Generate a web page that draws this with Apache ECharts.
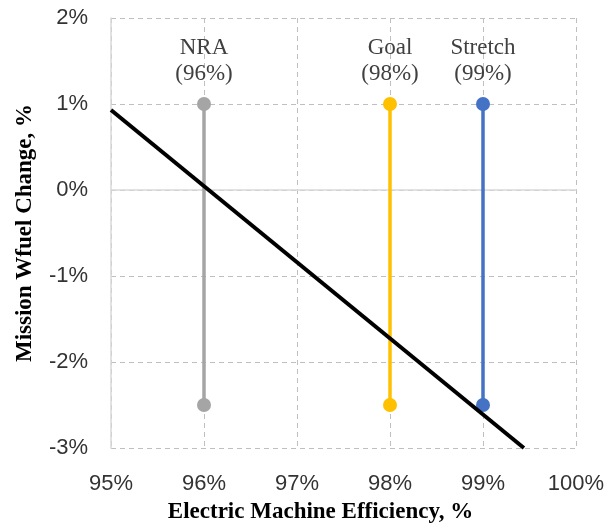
<!DOCTYPE html>
<html>
<head>
<meta charset="utf-8">
<script src="https://cdn.jsdelivr.net/npm/echarts@6/dist/echarts.min.js"></script>
<style>
html, body { margin: 0; padding: 0; background: #fff; }
#main { width: 609px; height: 523px; }
</style>
</head>
<body>
<div id="main"></div>
<script>
// targets (efficiency, %)
var targetNames = ['NRA', 'Goal', 'Stretch'];
var targetEff = [96, 98, 99];
var targetColors = ['#A5A5A5', '#FFC000', '#4472C4'];
var rangeTop = [1, 1, 1];
var rangeBottom = [-2.5, -2.5, -2.5];
// fuel change trend line
var trendX = [95, 99.44];
var trendY = [0.93, -3];

var myChart = echarts.init(document.getElementById('main'));

var series = [];
for (var i = 0; i < targetEff.length; i++) {
	series.push({
		type: 'line',
		name: targetNames[i],
		symbol: 'circle',
		symbolSize: 14,
		z: 2,
		lineStyle: { color: targetColors[i], width: 3.5 },
		itemStyle: { color: targetColors[i] },
		data: [
			{
				value: [targetEff[i], rangeTop[i]],
				label: {
					show: true,
					position: 'top',
					distance: 10,
					formatter: targetNames[i] + '\n(' + targetEff[i] + '%)',
					fontFamily: 'Liberation Serif',
					fontSize: 23,
					lineHeight: 26,
					color: '#404040'
				}
			},
			[targetEff[i], rangeBottom[i]]
		]
	});
}
series.push({
	type: 'line',
	name: 'trend',
	symbol: 'none',
	z: 3,
	lineStyle: { color: '#000', width: 4 },
	data: trendX.map(function (x, k) { return [x, trendY[k]]; })
});

var option = {
	animation: false,
	grid: { left: 111, right: 33, top: 18, bottom: 75, containLabel: false, outerBoundsMode: 'none' },
	xAxis: {
		type: 'value',
		min: 95,
		max: 100,
		interval: 1,
		name: 'Electric Machine Efficiency, %',
		nameLocation: 'middle',
		nameGap: 53,
		nameTextStyle: {
			fontFamily: 'Liberation Serif', fontWeight: 'bold', fontSize: 23, color: '#000',
			padding: [0, 46, 0, 0]
		},
		axisLine: { lineStyle: { color: '#d9d9d9', width: 1.5 } },
		axisTick: { show: false },
		axisLabel: {
			margin: 25,
			fontFamily: 'Liberation Sans',
			fontSize: 22,
			color: '#333',
			formatter: function (v) { return v + '%'; }
		},
		splitLine: { show: true, lineStyle: { color: '#bfbfbf', type: [5, 4] } }
	},
	yAxis: {
		type: 'value',
		min: -3,
		max: 2,
		interval: 1,
		name: 'Mission Wfuel Change, %',
		nameLocation: 'middle',
		nameGap: 74,
		nameTextStyle: { fontFamily: 'Liberation Serif', fontWeight: 'bold', fontSize: 23, color: '#000' },
		axisLine: { show: true, lineStyle: { color: '#d9d9d9', width: 1.5 } },
		axisTick: { show: false },
		axisLabel: {
			margin: 23,
			fontFamily: 'Liberation Sans',
			fontSize: 22,
			color: '#333',
			formatter: function (v) { return v + '%'; }
		},
		splitLine: { show: true, lineStyle: { color: '#bfbfbf', type: [5, 4] } }
	},
	series: series
};
myChart.setOption(option);
</script>
</body>
</html>
